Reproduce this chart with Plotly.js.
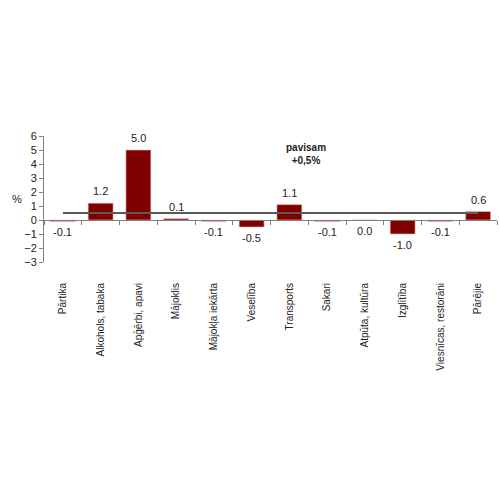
<!DOCTYPE html>
<html>
<head>
<meta charset="utf-8">
<script src="https://cdn.plot.ly/plotly-3.0.1.min.js"></script>
<style>
  html, body { margin: 0; padding: 0; background: #fff; }
  #chart { width: 500px; height: 500px; }
</style>
</head>
<body>
<div id="chart"></div>
<script>
// kategorijas un vērtības (%)
const categories = [
  "Pārtika", "Alkohols, tabaka", "Apģērbi, apavi", "Mājoklis",
  "Mājokļa iekārta", "Veselība", "Transports", "Sakari",
  "Atpūta, kultūra", "Izglītība", "Viesnīcas, restorāni", "Pārējie"
];
const values = [-0.1, 1.2, 5.0, 0.1, -0.1, -0.5, 1.1, -0.1, 0.0, -1.0, -0.1, 0.6];
const totalChange = 0.5;
const yTicks = [-3, -2, -1, 0, 1, 2, 3, 4, 5, 6];

const barColor = "#800000";
const font = "Liberation Sans, Arial, sans-serif";

// robežas starp kategorijām (ass pie nulles)
const boundaries = [];
for (let i = 0; i <= categories.length; i++) boundaries.push(i - 0.5);

const bars = {
  type: "bar",
  x: categories,
  y: values,
  marker: { color: barColor, line: { color: "#f2b8b8", width: 0.6 } },
  width: 0.66,
  hoverinfo: "x+y",
};

const totalLine = {
  type: "scatter",
  mode: "lines",
  x: categories,
  y: categories.map(() => totalChange),
  line: { color: "#5a5a5a", width: 2 },
  hoverinfo: "skip",
};

// neredzama līnija, lai otrā x ass tiktu zīmēta
const axisHelper = {
  type: "scatter",
  mode: "markers",
  x: [boundaries[0], boundaries[boundaries.length - 1]],
  y: [0, 0],
  xaxis: "x2",
  marker: { opacity: 0 },
  hoverinfo: "skip",
};

// vērtību uzraksti virs / zem stabiņiem
const labels = values.map((v, i) => ({
  x: categories[i],
  y: v,
  text: v.toFixed(1),
  showarrow: false,
  yshift: v > 0 ? 12 : -11,
  font: { family: font, size: 11, color: "#222" },
}));

labels.push({
  xref: "paper", yref: "paper",
  x: -0.06, y: 0.5,
  text: "%",
  showarrow: false,
  xanchor: "center",
  font: { family: font, size: 11, color: "#222" },
});

labels.push({
  xref: "paper", yref: "paper",
  x: 0.578, y: 0.965,
  text: "<b>pavisam</b><br><b>+0,5%</b>",
  showarrow: false,
  xanchor: "center",
  font: { family: font, size: 10, color: "#222" },
});

const layout = {
  width: 500,
  height: 500,
  margin: { l: 44, r: 3, t: 136, b: 238 },
  paper_bgcolor: "#fff",
  plot_bgcolor: "#fff",
  showlegend: false,
  font: { family: font, size: 10, color: "#222" },
  xaxis: {
    type: "category",
    range: [-0.5, categories.length - 0.5],
    showline: false,
    showgrid: false,
    zeroline: false,
    ticks: "",
    tickangle: -90,
    ticklabelstandoff: 18,
    tickfont: { family: font, size: 10, color: "#222" },
    fixedrange: true,
  },
  xaxis2: {
    overlaying: "x",
    anchor: "free",
    position: 3 / 9,
    range: [boundaries[0], boundaries[boundaries.length - 1]],
    tickvals: boundaries,
    showticklabels: false,
    ticks: "outside",
    ticklen: 4,
    tickcolor: "#808080",
    showline: true,
    linecolor: "#808080",
    linewidth: 1,
    showgrid: false,
    zeroline: false,
  },
  yaxis: {
    range: [-3, 6],
    tickvals: yTicks,
    showline: true,
    linecolor: "#808080",
    ticks: "outside",
    ticklen: 4,
    tickcolor: "#808080",
    showgrid: false,
    zeroline: false,
    tickfont: { family: font, size: 11, color: "#222" },
  },
  annotations: labels,
};

Plotly.newPlot("chart", [bars, totalLine, axisHelper], layout, { displayModeBar: false, staticPlot: true });
</script>
</body>
</html>
